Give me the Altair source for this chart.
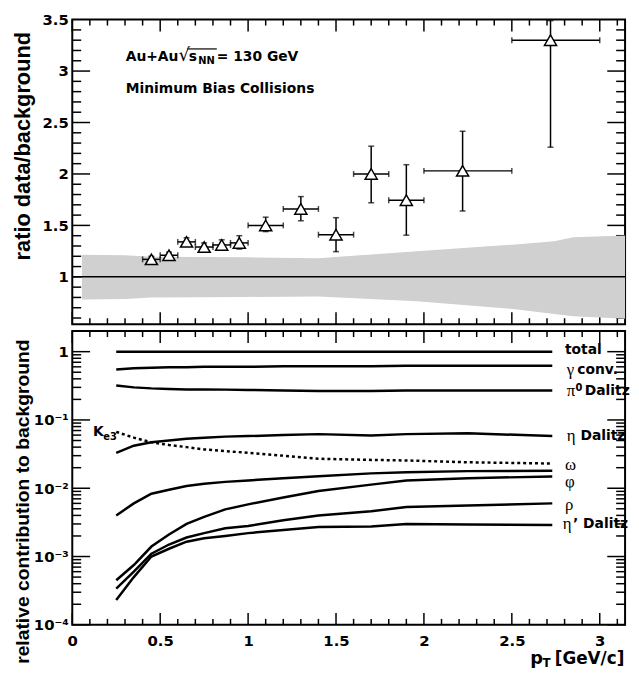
import altair as alt
import pandas as pd

# ---------------- top panel: ratio data / background ----------------
pt_center = [0.45, 0.55, 0.65, 0.75, 0.85, 0.95, 1.10, 1.30, 1.50, 1.70, 1.90, 2.22, 2.72]
pt_low = [0.40, 0.50, 0.60, 0.70, 0.80, 0.90, 1.00, 1.20, 1.40, 1.60, 1.80, 2.00, 2.50]
pt_high = [0.50, 0.60, 0.70, 0.80, 0.90, 1.00, 1.20, 1.40, 1.60, 1.80, 2.00, 2.50, 3.00]
ratio = [1.17, 1.21, 1.34, 1.29, 1.31, 1.33, 1.50, 1.66, 1.41, 2.00, 1.745, 2.03, 3.30]
ratio_low = [1.14, 1.18, 1.31, 1.26, 1.27, 1.27, 1.44, 1.545, 1.245, 1.72, 1.405, 1.64, 2.26]
ratio_high = [1.20, 1.24, 1.38, 1.33, 1.36, 1.40, 1.58, 1.78, 1.575, 2.27, 2.09, 2.415, 3.49]

band_pt = [0.055, 0.30, 0.45, 1.00, 1.40, 1.96, 2.52, 2.74, 2.85, 3.20]
band_high = [1.215, 1.21, 1.195, 1.19, 1.18, 1.25, 1.315, 1.345, 1.385, 1.405]
band_low = [0.78, 0.785, 0.80, 0.805, 0.81, 0.764, 0.686, 0.64, 0.616, 0.59]

unity = [1.0]

ann_text = ["Au+Au", "s", "= 130 GeV", "Minimum Bias Collisions"]
ann_x = [0.304, 0.662, 0.822, 0.304]
ann_y = [3.137, 3.137, 3.137, 2.83]
sqrt_text = ["\u221a"]
sqrt_x = [0.604]
sqrt_y = [3.15]
sub_text = ["NN"]
sub_x = [0.716]
sub_y = [3.094]
overline_x = [0.655]
overline_x2 = [0.822]
overline_y = [3.215]

# ---------------- bottom panel: relative contributions ----------------
curve_pt = [0.25, 0.35, 0.45, 0.55, 0.65, 0.75, 0.87, 1.00, 1.20, 1.40, 1.70, 1.90, 2.25, 2.73]
c_total = [1.0, 1.0, 1.0, 1.0, 1.0, 1.0, 1.0, 1.0, 1.0, 1.0, 1.0, 1.0, 1.0, 1.0]
c_gamma = [0.55, 0.57, 0.58, 0.59, 0.59, 0.60, 0.60, 0.60, 0.61, 0.61, 0.61, 0.62, 0.62, 0.62]
c_pi0 = [0.32, 0.30, 0.29, 0.285, 0.28, 0.28, 0.278, 0.275, 0.27, 0.266, 0.266, 0.27, 0.27, 0.27]
c_eta = [0.033, 0.042, 0.047, 0.050, 0.053, 0.055, 0.057, 0.058, 0.060, 0.062, 0.059, 0.062, 0.064, 0.058]
c_ke3 = [0.067, 0.055, 0.047, 0.043, 0.040, 0.037, 0.035, 0.033, 0.030, 0.027, 0.026, 0.0255, 0.024, 0.023]
c_omega = [0.0040, 0.0060, 0.0083, 0.0095, 0.0108, 0.0116, 0.0124, 0.0130, 0.0140, 0.0150, 0.0165, 0.0172, 0.0178, 0.0180]
c_phi = [0.00045, 0.00075, 0.0014, 0.0021, 0.0030, 0.0038, 0.0049, 0.0058, 0.0073, 0.0091, 0.0113, 0.0130, 0.0140, 0.0149]
c_rho = [0.00034, 0.00060, 0.0011, 0.0015, 0.0019, 0.0022, 0.0026, 0.0028, 0.0034, 0.0040, 0.0046, 0.0053, 0.0056, 0.0060]
c_etap = [0.00023, 0.00050, 0.0010, 0.0013, 0.00165, 0.00185, 0.0020, 0.0022, 0.00245, 0.0027, 0.00275, 0.0030, 0.00295, 0.0029]

bold_text = ["total", "conv.", "Dalitz", "Dalitz", "\u2019 Dalitz"]
bold_x = [2.802, 2.872, 2.915, 2.890, 2.848]
bold_y = [1.04, 0.54, 0.266, 0.058, 0.0030]
greek_text = ["\u03b3", "\u03c0", "\u03b7", "\u03c9", "\u03c6", "\u03c1", "\u03b7"]
greek_x = [2.813, 2.813, 2.813, 2.802, 2.802, 2.802, 2.790]
greek_y = [0.54, 0.266, 0.058, 0.0218, 0.0123, 0.0057, 0.0030]
sup_text = ["0"]
sup_x = [2.862]
sup_y = [0.29]
k_text = ["K"]
k_x = [0.118]
k_y = [0.0674]
ksub_text = ["e3"]
ksub_x = [0.176]
ksub_y = [0.0553]
xtitle_text = ["p", "T", "[GeV/c]"]
xtitle_x = [2.677, 2.720, 3.140]

# ---------------- layout constants ----------------
W, H1, H2 = 559, 308, 297
FONT = "DejaVu Sans"
xs = alt.Scale(domain=[0, 3.144], nice=False, zero=False)
ys_top = alt.Scale(domain=[0.54, 3.5], nice=False, zero=False)
ys_bot = alt.Scale(type="log", domain=[1e-4, 2], nice=False)

x_major = [0, 0.5, 1, 1.5, 2, 2.5, 3]
x_minor = [round(0.1 * i, 1) for i in range(1, 32) if i % 5 != 0]
top_major = [1, 1.5, 2, 2.5, 3]
top_minor = [round(0.6 + 0.1 * i, 1) for i in range(0, 29) if (i + 1) % 5 != 0]
bot_major = [1e-4, 1e-3, 1e-2, 1e-1, 1]
bot_minor = [k * 10.0 ** e for e in range(-4, 1) for k in range(2, 10) if k * 10.0 ** e < 2]

X = lambda f: alt.X(f, type="quantitative", scale=xs, axis=None)
YT = lambda f: alt.Y(f, type="quantitative", scale=ys_top, axis=None)
YB = lambda f: alt.Y(f, type="quantitative", scale=ys_bot, axis=None)


def frame_ticks(ys, H, y_major, y_minor):
    """Inward pointing ticks on all four frame edges, positioned by the scales."""
    out = []
    for vals, ln in ((y_major, 18), (y_minor, 9)):
        df = pd.DataFrame({"v": vals})
        base = alt.Chart(df).mark_rule(color="black", strokeWidth=1.5)
        out.append(base.encode(y=alt.Y("v:Q", scale=ys, axis=None),
                               x=alt.value(0), x2=alt.value(ln)))
        out.append(base.encode(y=alt.Y("v:Q", scale=ys, axis=None),
                               x=alt.value(W), x2=alt.value(W - ln)))
    for vals, ln in ((x_major, 12), (x_minor, 6)):
        df = pd.DataFrame({"v": vals})
        base = alt.Chart(df).mark_rule(color="black", strokeWidth=1.5)
        out.append(base.encode(x=X("v:Q"), y=alt.value(0), y2=alt.value(ln)))
        out.append(base.encode(x=X("v:Q"), y=alt.value(H), y2=alt.value(H - ln)))
    return out


def text_layer(texts, xv, yv, ys, **kw):
    df = pd.DataFrame({"t": texts, "x": xv, "y": yv})
    return alt.Chart(df).mark_text(**kw).encode(
        x=alt.X("x:Q", scale=xs, axis=None),
        y=alt.Y("y:Q", scale=ys, axis=None),
        text="t:N")


# ---------------- top panel ----------------
top_df = pd.DataFrame({"pt": pt_center, "lo": pt_low, "hi": pt_high,
                       "r": ratio, "rlo": ratio_low, "rhi": ratio_high})
band_df = pd.DataFrame({"pt": band_pt, "hi": band_high, "lo": band_low})
unity_df = pd.DataFrame({"u": unity})

top_main_y = alt.Axis(orient="left", values=[1, 1.5, 2, 2.5, 3, 3.5], ticks=False, domain=False,
                      grid=False, labelExpr="'' + datum.value", labelFont=FONT,
                      labelFontWeight="bold", labelFontSize=15, labelColor="black",
                      labelPadding=4, title="ratio data/background",
                      titleFont="Liberation Sans", titleFontWeight="bold", titleFontSize=22,
                      titleColor="black", titleX=-50, titleY=12, titleAlign="right",
                      titleAngle=270, titleBaseline="middle", zindex=0)
top_axis_layer = alt.Chart(top_df).mark_point(opacity=0).encode(
    x=X("pt"), y=alt.Y("r", type="quantitative", scale=ys_top, axis=top_main_y))

band = alt.Chart(band_df).mark_area(color="#d0d0d0", opacity=1, clip=True).encode(
    x=X("pt"), y=YT("hi"), y2="lo")
unity_line = alt.Chart(unity_df).mark_rule(color="black", strokeWidth=1.5).encode(y=YT("u"))
xbars = alt.Chart(top_df).mark_rule(color="black", strokeWidth=1.5).encode(
    x=X("lo"), x2="hi", y=YT("r"))
ybars = alt.Chart(top_df).mark_rule(color="black", strokeWidth=1.5).encode(
    x=X("pt"), y=YT("rlo"), y2="rhi")
xcaps = alt.Chart(top_df).transform_fold(["lo", "hi"], as_=["k", "xv"]).mark_tick(
    orient="vertical", size=6, thickness=1.5, color="black").encode(x=X("xv:Q"), y=YT("r"))
ycaps = alt.Chart(top_df).transform_fold(["rlo", "rhi"], as_=["k", "yv"]).mark_tick(
    orient="horizontal", size=6, thickness=1.5, color="black").encode(x=X("pt"), y=YT("yv:Q"))
points = alt.Chart(top_df).mark_point(shape="triangle-up", size=150, filled=True,
                                      fill="white", stroke="black", strokeWidth=1.5,
                                      opacity=1).encode(x=X("pt"), y=YT("r"))
overline = alt.Chart(pd.DataFrame({"x": overline_x, "x2": overline_x2, "y": overline_y})).mark_rule(
    color="black", strokeWidth=1.2).encode(x=X("x"), x2="x2", y=YT("y"))

ann = text_layer(ann_text, ann_x, ann_y, ys_top, align="left", baseline="middle",
                 font=FONT, fontWeight="bold", fontSize=14, color="black")
sqrt_l = text_layer(sqrt_text, sqrt_x, sqrt_y, ys_top, align="left", baseline="middle",
                    font=FONT, fontSize=18, color="black")
sub_l = text_layer(sub_text, sub_x, sub_y, ys_top, align="left", baseline="middle",
                   font=FONT, fontWeight="bold", fontSize=10, color="black")

top = alt.layer(*frame_ticks(ys_top, H1, [1, 1.5, 2, 2.5, 3], top_minor),
                top_axis_layer, band, unity_line, xbars, ybars, xcaps, ycaps, points,
                overline, ann, sqrt_l, sub_l).resolve_axis(
    x="independent", y="independent").properties(width=W, height=H1)

# ---------------- bottom panel ----------------
curves = pd.DataFrame({"pt": curve_pt, "total": c_total, "gamma": c_gamma, "pi0": c_pi0,
                       "eta": c_eta, "ke3": c_ke3, "omega": c_omega, "phi": c_phi,
                       "rho": c_rho, "etap": c_etap})
long = curves.melt(id_vars="pt", var_name="series", value_name="v")
solid = long[long.series != "ke3"]
dashed = long[long.series == "ke3"]

sup_expr = ("datum.value >= 0.99 ? '1' : (round(log(datum.value)/LN10) == -1 ? '10\u207b\u00b9' : "
            "(round(log(datum.value)/LN10) == -2 ? '10\u207b\u00b2' : "
            "(round(log(datum.value)/LN10) == -3 ? '10\u207b\u00b3' : '10\u207b\u2074')))")
bot_main_y = alt.Axis(orient="left", values=bot_major, ticks=False, domain=False, grid=False,
                      labelExpr=sup_expr, labelFont=FONT, labelFontWeight="bold",
                      labelFontSize=15, labelColor="black", labelPadding=4,
                      title="relative contribution to background", titleFont="Liberation Sans",
                      titleFontWeight="bold", titleFontSize=19.5, titleColor="black",
                      titleX=-50, titleY=8, titleAlign="right", titleAngle=270,
                      titleBaseline="middle", zindex=0)
bot_main_x = alt.Axis(orient="bottom", values=x_major, ticks=False, domain=False, grid=False,
                      labelExpr="'' + datum.value", labelFont=FONT, labelFontWeight="bold",
                      labelFontSize=15, labelColor="black", labelPadding=9,
                      labelFlush=False, labelOverlap=False, title=None, zindex=0)
bot_axis_layer = alt.Chart(long).mark_point(opacity=0).encode(
    x=alt.X("pt", type="quantitative", scale=xs, axis=bot_main_x),
    y=alt.Y("v", type="quantitative", scale=ys_bot, axis=bot_main_y))

solid_lines = alt.Chart(solid).mark_line(color="black", strokeWidth=2.5).encode(
    x=X("pt"), y=YB("v"), detail="series:N")
dashed_line = alt.Chart(dashed).mark_line(color="black", strokeWidth=2.5,
                                          strokeDash=[3, 3]).encode(
    x=X("pt"), y=YB("v"), detail="series:N")

bold_l = text_layer(bold_text, bold_x, bold_y, ys_bot, align="left", baseline="middle",
                    font=FONT, fontWeight="bold", fontSize=14, color="black")
greek_l = text_layer(greek_text, greek_x, greek_y, ys_bot, align="left", baseline="middle",
                     font="Liberation Serif", fontSize=17, color="black")
sup_l = text_layer(sup_text, sup_x, sup_y, ys_bot, align="left", baseline="middle",
                   font=FONT, fontWeight="bold", fontSize=10, color="black")
k_l = text_layer(k_text, k_x, k_y, ys_bot, align="left", baseline="middle",
                 font=FONT, fontWeight="bold", fontSize=14, color="black")
ksub_l = text_layer(ksub_text, ksub_x, ksub_y, ys_bot, align="left", baseline="middle",
                    font=FONT, fontWeight="bold", fontSize=10, color="black")

xt_df = pd.DataFrame({"t": xtitle_text, "x": xtitle_x})
xt_p = alt.Chart(xt_df[xt_df.t == "p"]).mark_text(
    align="right", baseline="middle", font=FONT, fontWeight="bold", fontSize=18,
    color="black").encode(x=X("x"), y=alt.value(H2 + 35), text="t:N")
xt_T = alt.Chart(xt_df[xt_df.t == "T"]).mark_text(
    align="right", baseline="middle", font=FONT, fontWeight="bold", fontSize=12,
    color="black").encode(x=X("x"), y=alt.value(H2 + 39), text="t:N")
xt_u = alt.Chart(xt_df[xt_df.t == "[GeV/c]"]).mark_text(
    align="right", baseline="middle", font=FONT, fontWeight="bold", fontSize=17,
    color="black").encode(x=X("x"), y=alt.value(H2 + 35), text="t:N")

bottom = alt.layer(*frame_ticks(ys_bot, H2, bot_major, bot_minor),
                   bot_axis_layer, solid_lines, dashed_line, bold_l, greek_l, sup_l, k_l,
                   ksub_l, xt_p, xt_T, xt_u).resolve_axis(
    x="independent", y="independent").properties(width=W, height=H2)

chart = alt.vconcat(top, bottom, spacing=3).properties(
    padding={"left": 3, "top": 0, "right": 0, "bottom": 0}
).configure_view(stroke="black", strokeWidth=2)

chart.save("out.html", embed_options={"renderer": "svg", "actions": False})
